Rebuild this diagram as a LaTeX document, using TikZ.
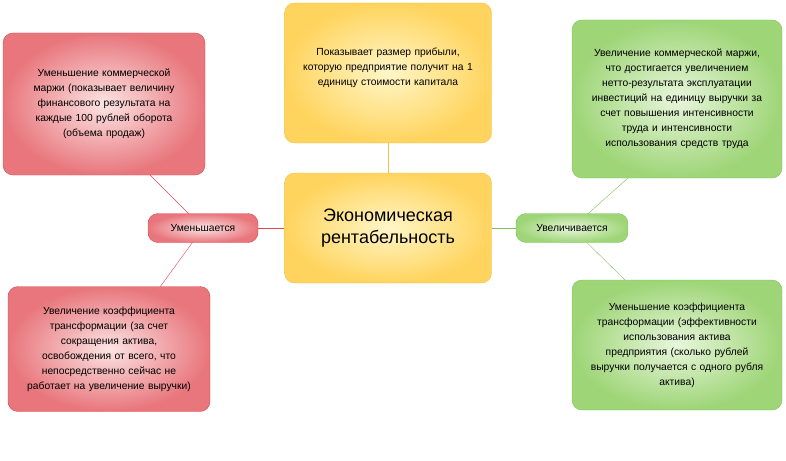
\documentclass[tikz,border=0pt]{standalone}
\usepackage{fontspec}
\setmainfont{Liberation Sans}
\definecolor{rdo}{HTML}{E8767C}
\definecolor{rdi}{HTML}{FCE4E4}
\definecolor{rdl}{HTML}{E0484F}
\definecolor{yeo}{HTML}{FFD45E}
\definecolor{yei}{HTML}{FFF6C8}
\definecolor{yel}{HTML}{F2C04A}
\definecolor{gro}{HTML}{9ED577}
\definecolor{gri}{HTML}{E8F6DC}
\definecolor{grl}{HTML}{7DC25A}
\begin{document}
\begin{tikzpicture}[x=1pt, y=-1pt, font=\fontsize{10.3}{15}\selectfont,
  box/.style={rectangle, rounded corners=10pt, draw, align=center, inner sep=3pt},
  redbox/.style={box, draw=rdl, shading=radial, inner color=rdi, outer color=rdo},
  yelbox/.style={box, draw=yel, shading=radial, inner color=yei, outer color=yeo},
  grnbox/.style={box, draw=grl, shading=radial, inner color=gri, outer color=gro}]

    \useasboundingbox (0,0) rectangle (786,460);

    % connectors first, boxes on top
    \coordinate (cT) at (388,143);
    \coordinate (cC) at (388,228);
    \draw[yel] (cT) -- (388,173);
    \draw[rdl] (203,228) -- (285,228);
    \draw[rdl] (203,228) -- (150,175);
    \draw[rdl] (203,228) -- (160,287);
    \draw[grl] (492,228) -- (572,228);
    \draw[grl] (572,228) -- (628,178);
    \draw[grl] (572,228) -- (625,280);

    \node[yelbox, minimum width=207pt, minimum height=140pt] (profit) at (388,73) {};
    \node[text width=205pt, align=center] (profittxt) at (388,68) {Показывает размер прибыли,\\которую предприятие получит на 1\\единицу стоимости капитала};
    \node[yelbox, minimum width=207pt, minimum height=110pt, font=\fontsize{18}{22}\selectfont] (econ) at (cC) {Экономическая\\рентабельность};

    \node[redbox, minimum width=110pt, minimum height=29pt] (dec) at (203,228) {Уменьшается};
    \node[grnbox, minimum width=112pt, minimum height=29pt] (inc) at (572,228) {Увеличивается};

    \node[redbox, minimum width=202pt, minimum height=142pt, text width=196pt] (margin) at (104,104) {Уменьшение коммерческой\\маржи (показывает величину\\финансового результата на\\каждые 100 рублей оборота\\(объема продаж)};
    \node[redbox, minimum width=202pt, minimum height=125pt, text width=196pt] (transf) at (109,349) {Увеличение коэффициента\\трансформации (за счет\\сокращения актива,\\освобождения от всего, что\\непосредственно сейчас не\\работает на увеличение выручки)};
    \node[grnbox, minimum width=210pt, minimum height=158pt, text width=204pt] (gmargin) at (677,99) {Увеличение коммерческой маржи,\\что достигается увеличением\\нетто-результата эксплуатации\\инвестиций на единицу выручки за\\счет повышения интенсивности\\труда и интенсивности\\использования средств труда};
    \node[grnbox, minimum width=210pt, minimum height=130pt, text width=204pt] (gtransf) at (677,345) {Уменьшение коэффициента\\трансформации (эффективности\\использования актива\\предприятия (сколько рублей\\выручки получается с одного рубля\\актива)};

\end{tikzpicture}
\end{document}
